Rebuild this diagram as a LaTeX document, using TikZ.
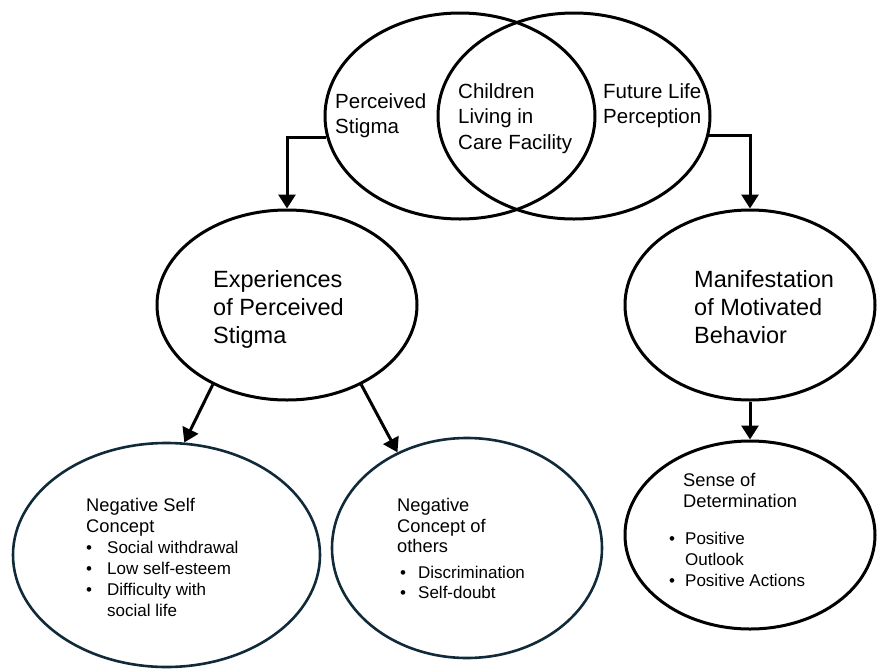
\documentclass[tikz,border=0pt]{standalone}
\usepackage{fontspec}
\setmainfont{Liberation Sans}
\usetikzlibrary{shapes.geometric,arrows.meta}
\definecolor{navy}{RGB}{16,42,58}

% text block whose baseline is the baseline of its first line
\newcommand\textlines[1]{\begin{tabular}[t]{@{}l@{}}#1\end{tabular}}
% bullet set in a box of the given width
\newcommand\bul[1]{\makebox[#1][l]{\textbullet}}
% slightly larger type for the headings of the lower bubbles
\newcommand\hd{\fontsize{18.3}{21}\selectfont}

\begin{document}
\begin{tikzpicture}[x=1pt,y=-1pt,
  bubble/.style={ellipse, draw=black, line width=3pt, inner sep=0pt},
  soft/.style={ellipse, draw=navy, line width=2.6pt, inner sep=0pt},
  link/.style={line width=3pt, -{Triangle[width=17pt,length=14pt]}},
  lbl/.style={anchor=base west, inner sep=0pt},
  toptext/.style={lbl, font=\fontsize{20.5}{25.5}\selectfont},
  midtext/.style={lbl, font=\fontsize{23.5}{28}\selectfont},
  lowtext/.style={lbl, font=\fontsize{17}{21}\selectfont}]
\useasboundingbox (0,0) rectangle (879,670);

% overlapping pair at the top
\node[bubble, minimum width=270pt, minimum height=206pt] (stig) at (460,116) {};
\node[bubble, minimum width=272pt, minimum height=206pt] (fut) at (574,116) {};
\node[toptext] (stigtxt) at (335,108) {\textlines{Perceived\\Stigma}};
\node[toptext] (kidtxt) at (458,98) {\textlines{Children\\Living in\\Care Facility}};
\node[toptext] (futtxt) at (603,98) {\textlines{Future Life\\Perception}};

% second level
\node[bubble, minimum width=260pt, minimum height=190pt] (exp) at (287,305) {};
\node[bubble, minimum width=250pt, minimum height=190pt] (man) at (750,305) {};
\node[midtext] (exptxt) at (213,287) {\textlines{Experiences\\of Perceived\\Stigma}};
\node[midtext] (mantxt) at (694,287) {\textlines{Manifestation\\of Motivated\\Behavior}};

% third level
\node[soft, minimum width=307pt, minimum height=224pt] (negself) at (166.5,555) {};
\node[soft, minimum width=270pt, minimum height=220pt] (negoth) at (467,548) {};
\node[bubble, minimum width=250pt, minimum height=188pt] (sense) at (750,535) {};

\node[lowtext] (selftxt) at (86,511.7) {\textlines{%
  \hd Negative Self\\
  \hd Concept\\
  \bul{21pt}Social withdrawal\\
  \bul{21pt}Low self-esteem\\
  \bul{21pt}Difficulty with\\
  \hspace*{21pt}social life}};
\node[lowtext, font=\fontsize{17}{20.5}\selectfont] (othtxt) at (397,511.7) {\textlines{%
  \hd Negative\\
  \hd Concept of\\
  \hd others\\[5pt]
  \hspace*{3pt}\bul{18pt}Discrimination\\
  \hspace*{3pt}\bul{18pt}Self-doubt}};
\node[lowtext] (sensetxt) at (683,486) {\textlines{%
  \hd Sense of\\
  \hd Determination\\[16pt]
  \hspace*{-14pt}\bul{16pt}Positive\\
  \hspace*{2pt}Outlook\\
  \hspace*{-14pt}\bul{16pt}Positive Actions}};

% connectors
\draw[link] (stig.189) -| (exp.north);
\draw[link] (fut.-8) -| (man.north);
\draw[link] (exp.227) -- (negself.81);
\draw[link] (exp.313) -- (negoth.126);
\draw[link] (man.south) -- (sense.north);
\end{tikzpicture}
\end{document}
